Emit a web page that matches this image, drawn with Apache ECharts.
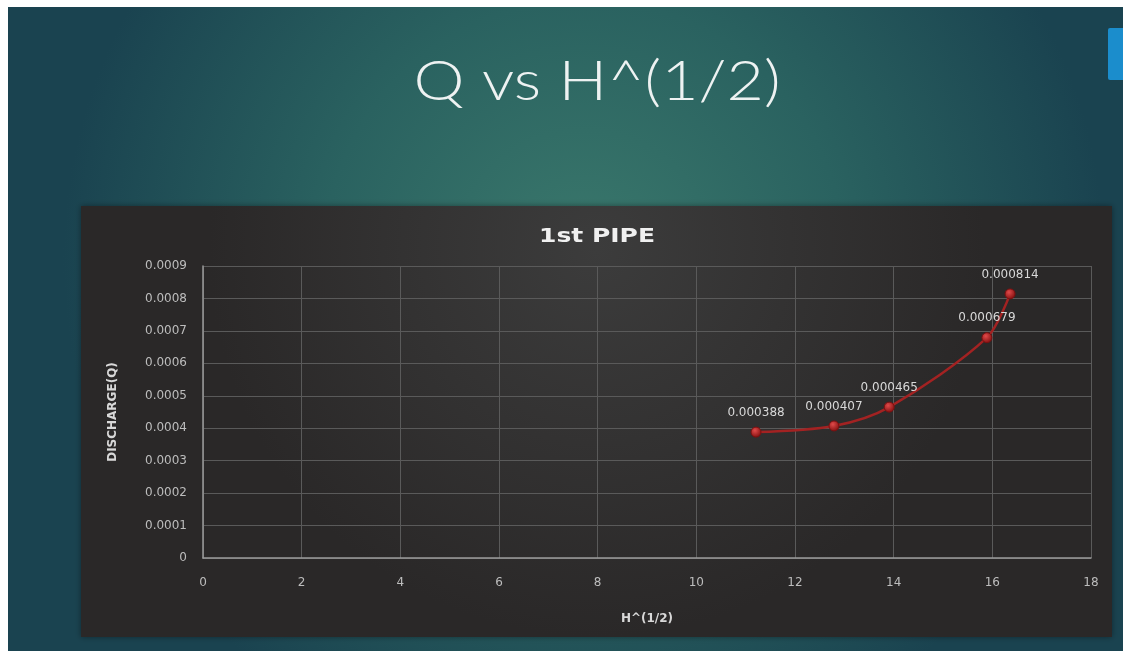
<!DOCTYPE html>
<html>
<head>
<meta charset="utf-8">
<style>
  html, body { margin: 0; padding: 0; background: #ffffff; }
  #chart { width: 1123px; height: 651px; }
</style>
<script src="https://cdn.jsdelivr.net/npm/echarts@6/dist/echarts.min.js"></script>
</head>
<body>
<div id="chart"></div>
<script>
// Square root of head vs measured discharge, first pipe
const headRoot = [11.21, 12.79, 13.91, 15.89, 16.36];
const discharge = [0.000388, 0.000407, 0.000465, 0.000679, 0.000814];
const xTicks = [0, 2, 4, 6, 8, 10, 12, 14, 16, 18];
const yTicks = [0, 0.0001, 0.0002, 0.0003, 0.0004, 0.0005, 0.0006, 0.0007, 0.0008, 0.0009];

const points = headRoot.map((x, i) => [x, discharge[i]]);

const chart = echarts.init(document.getElementById('chart'), null, { renderer: 'canvas' });
const lightFont = 'Lato, "Open Sans", sans-serif';
const font = '"DejaVu Sans", Lato, sans-serif';

chart.setOption({
  backgroundColor: {
    type: 'radial', x: 0.52, y: 0.4, r: 0.8,
    colorStops: [
      { offset: 0, color: '#3a786c' },
      { offset: 0.5, color: '#2a6260' },
      { offset: 1, color: '#1a4350' }
    ]
  },
  graphic: [
    // white margins of the slide capture
    { type: 'rect', left: 0, top: 0, shape: { width: 1123, height: 7 }, style: { fill: '#ffffff' }, z: 100 },
    { type: 'rect', left: 0, top: 0, shape: { width: 8, height: 651 }, style: { fill: '#ffffff' }, z: 100 },
    // blue accent tab
    { type: 'rect', left: 1108, top: 28, shape: { width: 20, height: 52, r: 2 }, style: { fill: '#1b8dcc' }, z: -1 },
    // chart panel
    {
      type: 'rect', left: 81, top: 206, z: -10,
      shape: { width: 1031, height: 431 },
      style: {
        fill: {
          type: 'radial', x: 0.5, y: 0.1, r: 0.9,
          colorStops: [
            { offset: 0, color: '#3c3c3c' },
            { offset: 1, color: '#2a2828' }
          ]
        },
        shadowBlur: 6, shadowColor: 'rgba(0,0,0,0.4)'
      }
    },
    // slide heading
    {
      type: 'text', x: 597, y: 82, scaleX: 1.15, z: 10,
      style: {
        text: 'Q vs H^(1/2)', x: 0, y: 0,
        textAlign: 'center', textVerticalAlign: 'middle',
        font: '300 56px ' + lightFont, fill: '#eef2f2'
      }
    },
    // chart heading
    {
      type: 'text', x: 597, y: 237, scaleX: 1.25, z: 10,
      style: {
        text: '1st PIPE', x: 0, y: 0,
        textAlign: 'center', textVerticalAlign: 'middle',
        font: 'bold 20px ' + font, fill: '#f0f0f0'
      }
    }
  ],
  grid: { left: 203, right: 32, top: 266, bottom: 93 },
  xAxis: {
    type: 'value', min: 0, max: 18, interval: 2,
    name: 'H^(1/2)', nameLocation: 'middle', nameGap: 55,
    nameTextStyle: { color: '#d8d8d8', fontSize: 12, fontWeight: 'bold', fontFamily: font },
    axisLine: { show: true, lineStyle: { color: '#9a9a9a', width: 1.5 } },
    axisTick: { show: false },
    axisLabel: {
      color: '#bdbdbd', fontSize: 12, margin: 19, fontFamily: font,
      formatter: v => xTicks.includes(v) ? String(v) : ''
    },
    splitLine: { show: true, lineStyle: { color: '#5a5a5a', width: 1 } }
  },
  yAxis: {
    type: 'value', min: 0, max: 0.0009, interval: 0.0001,
    name: 'DISCHARGE(Q)', nameLocation: 'middle', nameGap: 84, nameRotate: 90,
    nameTextStyle: { color: '#d8d8d8', fontSize: 12, fontWeight: 'bold', fontFamily: font },
    axisLine: { show: true, lineStyle: { color: '#9a9a9a', width: 1.5 } },
    axisTick: { show: false },
    axisLabel: {
      color: '#bdbdbd', fontSize: 12, margin: 16, fontFamily: font,
      formatter: v => {
        const t = yTicks.find(y => Math.abs(y - v) < 1e-9);
        if (t === undefined) return '';
        return t === 0 ? '0' : t.toFixed(4);
      }
    },
    splitLine: { show: true, lineStyle: { color: '#5a5a5a', width: 1 } }
  },
  series: [{
    type: 'line',
    data: points,
    smooth: 0.3,
    symbol: 'circle',
    symbolSize: 10,
    lineStyle: { color: '#a32222', width: 2.5 },
    itemStyle: {
      color: {
        type: 'radial', x: 0.4, y: 0.35, r: 0.6,
        colorStops: [
          { offset: 0, color: '#e04a4a' },
          { offset: 1, color: '#8a1414' }
        ]
      },
      borderColor: '#7a1010', borderWidth: 1
    },
    label: {
      show: true, position: 'top', distance: 8,
      color: '#d8d8d8', fontSize: 12, fontFamily: font,
      formatter: p => String(p.value[1])
    },
    labelLayout: { hideOverlap: false }
  }]
});
</script>
</body>
</html>
